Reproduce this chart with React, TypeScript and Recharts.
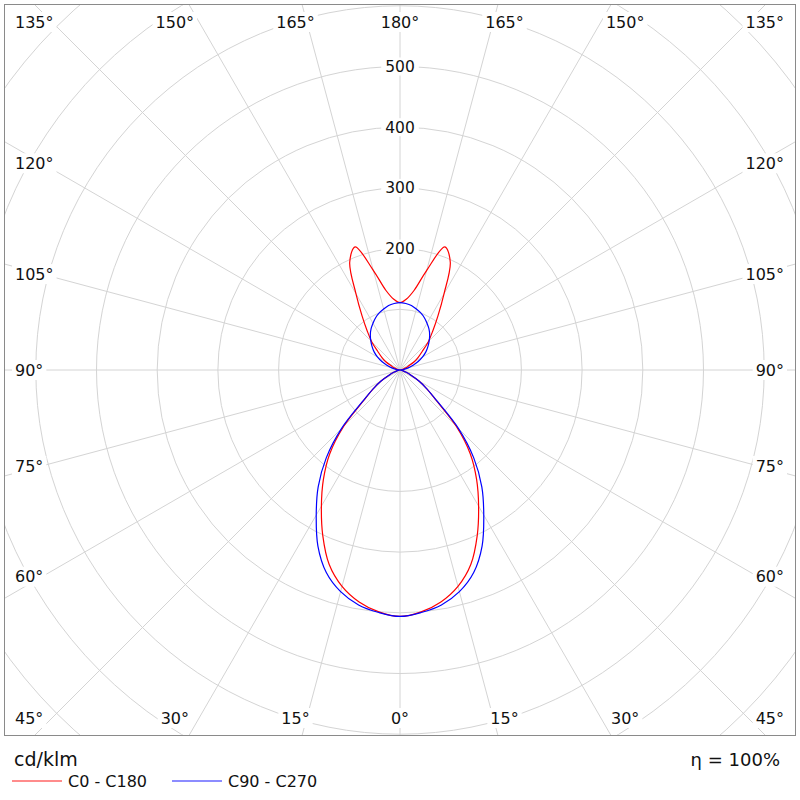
import React from 'react';
import { RadarChart, Radar, PolarGrid, PolarAngleAxis, PolarRadiusAxis } from 'recharts';

// Gamma angles (deg from nadir) for one half-plane; the other half-plane mirrors it.
const gammaAngles = [0, 5, 10, 15, 20, 25, 30, 35, 40, 45, 50, 55, 60, 65, 70, 75, 80, 85, 90, 95, 100, 105, 110, 115, 120, 125, 130, 135, 140, 145, 150, 155, 160, 165, 170, 175, 180];
// Luminous intensity, cd/klm
const c0c180Values = [406, 400, 388, 369, 341, 301, 259, 220, 180, 131, 78, 54, 36, 20, 10, 5, 3, 1, 0, 1, 3, 5, 9, 15, 27, 37, 48, 66, 84, 109, 145, 196, 216, 170, 133, 117, 111];
const c90c270Values = [406, 401, 393, 378, 355, 320, 276, 235, 189, 136, 80, 54, 36, 20, 10, 5, 3, 1, 0, 3, 8, 15, 23, 33, 43, 52, 60, 68, 76, 83, 89, 95, 100, 104, 108, 110, 111];

const seriesNames = ['C0 - C180', 'C90 - C270'];
const seriesKeys = ['c0', 'c90'];
const radiusDomainMax = 900;
const radiusLabelValues = [200, 300, 400, 500];
const angleLabelStep = 15;
const unitLabel = 'cd/klm';
const efficiencyLabel = 'η = 100%';

// build full-circle table (theta measured from nadir, counter-clockwise on screen)
const rightSide = gammaAngles.map((g, i) => ({ theta: g, c0: c0c180Values[i], c90: c90c270Values[i] }));
const leftSide = gammaAngles
  .slice(1, -1)
  .reverse()
  .map((g) => {
    const i = gammaAngles.indexOf(g);
    return { theta: 360 - g, c0: c0c180Values[i], c90: c90c270Values[i] };
  });
const data = [...rightSide, ...leftSide];
const angleTicks = Array.from({ length: 360 / angleLabelStep }, (_, k) => k * angleLabelStep);

const COLORS = ['#ff0000', '#0000ff'];
const FONT = '"DejaVu Sans", Verdana, sans-serif';
const W = 792;
const H = 732;
const CX = 395;
const CY = 365;
const OUTER = 546.3;

function smoothClosedPath(points: { x: number; y: number }[]) {
  const n = points.length;
  const alpha = 0.5;
  const dist = (a: any, b: any) => Math.hypot(b.x - a.x, b.y - a.y);
  let d = `M${points[0].x},${points[0].y}`;
  for (let i = 0; i < n; i++) {
    const p0 = points[(i - 1 + n) % n];
    const p1 = points[i];
    const p2 = points[(i + 1) % n];
    const p3 = points[(i + 2) % n];
    const l01 = dist(p0, p1), l12 = dist(p1, p2), l23 = dist(p2, p3);
    const l01a = Math.pow(l01, alpha), l12a = Math.pow(l12, alpha), l23a = Math.pow(l23, alpha);
    const l01_2a = l01a * l01a, l12_2a = l12a * l12a, l23_2a = l23a * l23a;
    let c1x = p1.x, c1y = p1.y, c2x = p2.x, c2y = p2.y;
    if (l01a > 1e-6 && l12a > 1e-6) {
      const a = 2 * l01_2a + 3 * l01a * l12a + l12_2a;
      const m = 3 * l01a * (l01a + l12a);
      c1x = (p1.x * a - p0.x * l12_2a + p2.x * l01_2a) / m;
      c1y = (p1.y * a - p0.y * l12_2a + p2.y * l01_2a) / m;
    }
    if (l23a > 1e-6 && l12a > 1e-6) {
      const b = 2 * l23_2a + 3 * l23a * l12a + l12_2a;
      const m = 3 * l23a * (l23a + l12a);
      c2x = (p2.x * b + p1.x * l23_2a - p3.x * l12_2a) / m;
      c2y = (p2.y * b + p1.y * l23_2a - p3.y * l12_2a) / m;
    }
    d += ` C${c1x},${c1y} ${c2x},${c2y} ${p2.x},${p2.y}`;
  }
  return d + ' Z';
}

const SmoothShape = (props: any) => {
  const { points, stroke } = props;
  if (!points || points.length < 3) return <g />;
  return <path d={smoothClosedPath(points)} fill="none" stroke={stroke} strokeWidth={1.2} />;
};

const AngleTick = (props: any) => {
  const { x, y, payload } = props;
  const theta = Number(payload?.value);
  if (!Number.isFinite(theta) || theta % angleLabelStep !== 0) return <g />;
  const gamma = theta <= 180 ? theta : 360 - theta;
  const label = `${gamma}°`;
  const dx = x - CX;
  const dy = y - CY;
  const len = Math.hypot(dx, dy) || 1;
  const ux = dx / len;
  const uy = dy / len;
  const tX = Math.abs(ux) > 1e-6 ? 358 / Math.abs(ux) : Infinity;
  const tY = Math.abs(uy) > 1e-6 ? 390 / Math.abs(uy) : Infinity;
  const fs = 16;
  const tw = (String(gamma).length * 0.636 + 0.5) * fs;
  let lx: number;
  let ly: number;
  let anchor: 'start' | 'middle' | 'end' = 'middle';
  if (tX < tY) {
    ly = CY + uy * tX;
    ly = Math.max(CY - 348, Math.min(CY + 348, ly));
    if (ux > 0) {
      lx = CX + 384;
      anchor = 'end';
    } else {
      lx = CX - 385;
      anchor = 'start';
    }
  } else {
    ly = CY + Math.sign(uy) * 348;
    lx = CX + ux * tY;
  }
  const left = anchor === 'start' ? lx : anchor === 'end' ? lx - tw : lx - tw / 2;
  return (
    <g>
      <rect x={left - 3} y={ly - 10} width={tw + 6} height={20} fill="#fff" />
      <text x={lx} y={ly} dy="0.36em" textAnchor={anchor} fontSize={fs} fontFamily={FONT} fill="#111">
        {label}
      </text>
    </g>
  );
};

const RadiusTick = (props: any) => {
  const { x, y, payload } = props;
  const v = Number(payload?.value);
  if (!radiusLabelValues.includes(v)) return <g />;
  const fs = 15.5;
  const tw = String(v).length * 0.636 * fs;
  return (
    <g>
      <rect x={x - tw / 2 - 4} y={y - 9} width={tw + 8} height={18} fill="#fff" />
      <text x={x} y={y} dy="0.36em" textAnchor="middle" fontSize={fs} fontFamily={FONT} fill="#111">
        {v}
      </text>
    </g>
  );
};

const gridAngles = angleTicks.map((t) => -90 + t);

export default function App() {
  return (
    <div style={{ position: 'absolute', left: 0, top: 0, width: 800, height: 800, background: '#fff', fontFamily: FONT }}>
      <div
        style={{
          position: 'absolute',
          left: 4,
          top: 4,
          width: W,
          height: H,
          boxSizing: 'border-box',
          border: '1px solid #8a8a8a',
          overflow: 'hidden',
        }}
      >
        <RadarChart
          width={W - 2}
          height={H - 2}
          data={data}
          cx={CX}
          cy={CY}
          outerRadius={OUTER}
          innerRadius={0}
          startAngle={-90}
          endAngle={270}
          margin={{ top: 0, right: 0, bottom: 0, left: 0 }}
        >
          <PolarGrid
            gridType="circle"
            polarAngles={gridAngles}
            innerRadius={OUTER * (100 / radiusDomainMax)}
            stroke="#d4d4d4"
            strokeWidth={1}
          />
          {seriesKeys.map((k, i) => (
            <Radar
              key={k}
              name={seriesNames[i]}
              dataKey={k}
              stroke={COLORS[i]}
              fill="none"
              fillOpacity={0}
              dot={false}
              isAnimationActive={false}
              shape={SmoothShape}
            />
          ))}
          <PolarRadiusAxis
            angle={90}
            domain={[0, radiusDomainMax]}
            tickCount={10}
            axisLine={false}
            tickLine={false}
            tick={RadiusTick}
          />
          <PolarAngleAxis
            dataKey="theta"
            type="number"
            domain={[0, 360]}
            ticks={angleTicks as any}
            axisLine={false}
            tickLine={false}
            tick={AngleTick}
          />
        </RadarChart>
      </div>
      <div style={{ position: 'absolute', left: 14, top: 750, fontSize: 19, lineHeight: '19px', color: '#111' }}>{unitLabel}</div>
      <div style={{ position: 'absolute', right: 20, top: 751, fontSize: 18, lineHeight: '18px', color: '#111' }}>{efficiencyLabel}</div>
      {seriesNames.map((name, i) => (
        <div key={name} style={{ position: 'absolute', left: 12 + i * 160, top: 774, height: 16, display: 'flex', alignItems: 'center' }}>
          <div style={{ width: 50, height: 2, background: COLORS[i], opacity: 0.45, marginRight: 6, marginTop: -3 }} />
          <div style={{ fontSize: 16, lineHeight: '16px', color: '#111' }}>{name}</div>
        </div>
      ))}
    </div>
  );
}
